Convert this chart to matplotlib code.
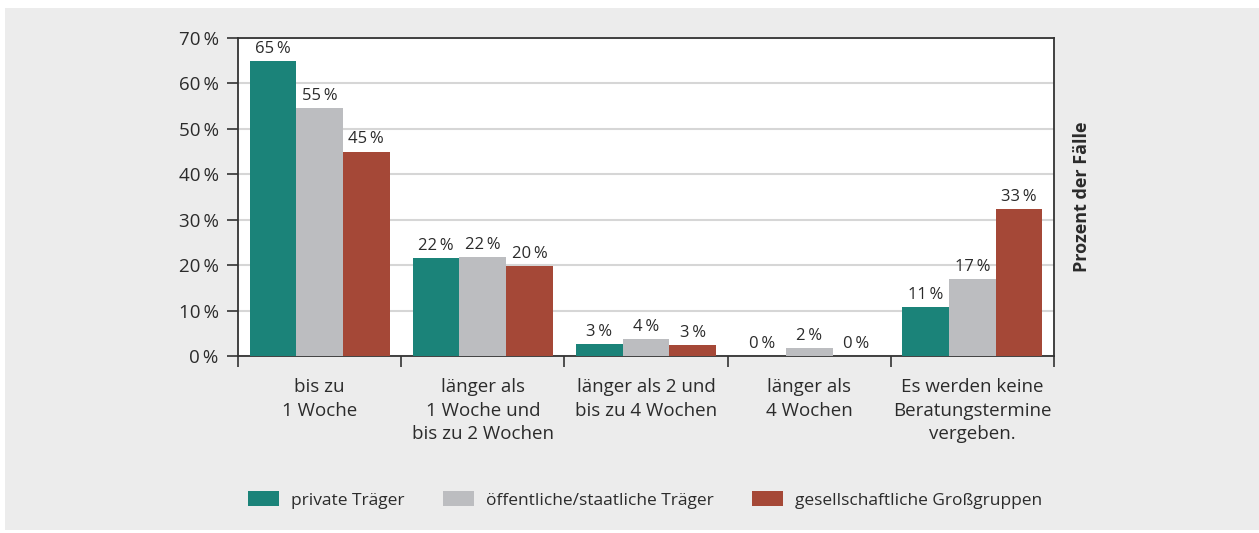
import numpy as np
import matplotlib.pyplot as plt
from matplotlib.patches import Rectangle

plt.rcParams['font.family'] = ['Open Sans', 'DejaVu Sans']

categories = ["bis zu\n1 Woche",
              "länger als\n1 Woche und\nbis zu 2 Wochen",
              "länger als 2 und\nbis zu 4 Wochen",
              "länger als\n4 Wochen",
              "Es werden keine\nBeratungstermine\nvergeben."]
series_names = ["private Träger", "öffentliche/staatliche Träger",
                "gesellschaftliche Großgruppen"]
private = [64.9, 21.6, 2.6, 0.0, 10.8]
public = [54.6, 21.8, 3.7, 1.8, 17.0]
groups = [45.0, 19.8, 2.4, 0.0, 32.4]
private_lbl = ["65", "22", "3", "0", "11"]
public_lbl = ["55", "22", "4", "2", "17"]
groups_lbl = ["45", "20", "3", "0", "33"]
colors = ["#1b8379", "#bcbdc0", "#a54837"]
txt = "#2b2b2b"

fig = plt.figure(figsize=(12.59, 5.33), dpi=100)
fig.patch.set_facecolor("white")
fig.add_artist(Rectangle((5 / 1259, 3 / 533), 1, 1 - 11 / 533, transform=fig.transFigure,
                         facecolor="#ececec", edgecolor="none", zorder=-10))

ax = fig.add_axes([238 / 1259, 1 - 356 / 533, (1054 - 238) / 1259, (356 - 38) / 533])
ax.set_facecolor("white")

x = np.arange(len(categories))
w = 0.286
for i, (vals, lbls, col, name) in enumerate(zip([private, public, groups],
                                                [private_lbl, public_lbl, groups_lbl],
                                                colors, series_names)):
    bars = ax.bar(x + (i - 1) * w, vals, w, color=col, label=name, zorder=3)
    for b, l in zip(bars, lbls):
        ax.annotate(l + "\u2009%", (b.get_x() + b.get_width() / 2, b.get_height()),
                    xytext=(0, 3), textcoords="offset points", ha="center", va="bottom",
                    fontsize=12, color=txt)

ax.set_xlim(-0.5, len(categories) - 0.5)
ax.set_ylim(0, 70)
yt = np.arange(0, 71, 10)
ax.set_yticks(yt)
ax.set_yticklabels([f"{v}\u2009%" for v in yt], fontsize=13.5, color=txt)
ax.tick_params(axis="y", length=8, width=1.2, color="#333333", pad=6)
ax.yaxis.grid(True, color="#d6d6d6", lw=1.5, zorder=0)

ax.set_xticks(x)
ax.set_xticklabels(categories, fontsize=13.5, color=txt, linespacing=1.4)
ax.set_xticks(np.arange(-0.5, len(categories)), minor=True)
ax.tick_params(axis="x", which="major", length=0, pad=16)
ax.tick_params(axis="x", which="minor", length=8, width=1.2, color="#333333")

for s in ax.spines.values():
    s.set_color("#333333")
    s.set_linewidth(1.3)

ax.yaxis.set_label_position("right")
ax.set_ylabel("Prozent der Fälle", fontsize=13, fontweight="bold", color=txt,
              rotation=90, labelpad=14)

fig.legend(loc="center", bbox_to_anchor=(645 / 1259, 1 - 500 / 533), ncol=3,
           frameon=False, fontsize=12.5, handlelength=1.8, handleheight=0.9,
           handletextpad=0.7, columnspacing=2.2, labelcolor=txt)

fig.savefig("out.png", dpi=100)
